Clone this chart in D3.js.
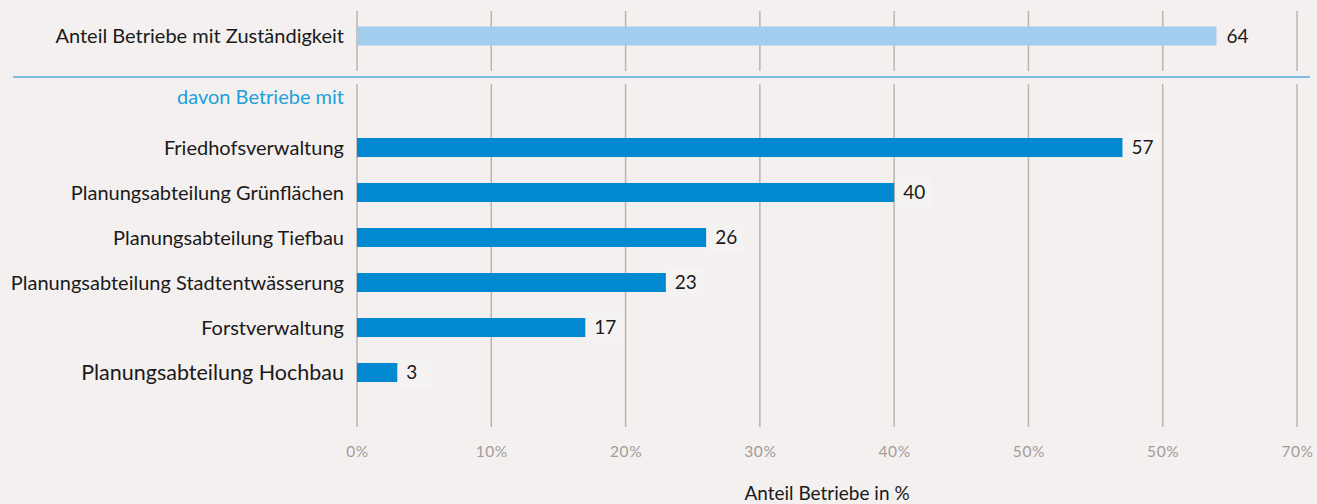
<!DOCTYPE html>
<html>
<head>
<meta charset="utf-8">
<title>Anteil Betriebe</title>
<script src="https://d3js.org/d3.v7.min.js"></script>
<style>
  body { margin: 0; background: #f3f0ef; }
  text { font-family: Lato, "Open Sans", sans-serif; }
</style>
</head>
<body>
<script>
const width = 1317;
const height = 504;

// data
const totalLabel = "Anteil Betriebe mit Zuständigkeit";
const totalValue = 64;
const subHeading = "davon Betriebe mit";
const categories = [
  "Friedhofsverwaltung",
  "Planungsabteilung Grünflächen",
  "Planungsabteilung Tiefbau",
  "Planungsabteilung Stadtentwässerung",
  "Forstverwaltung",
  "Planungsabteilung Hochbau"
];
const values = [57, 40, 26, 23, 17, 3];
const tickValues = [0, 10, 20, 30, 40, 50, 60, 70];
const tickLabels = ["0%", "10%", "20%", "30%", "40%", "50%", "50%", "70%"];
const axisTitle = "Anteil Betriebe in %";

const left = 357, right = 1297;
const barH = 19;

const svg = d3.select("body").append("svg")
  .attr("width", width)
  .attr("height", height);

svg.append("rect").attr("width", width).attr("height", height).attr("fill", "#f3f0ef");

const x = d3.scaleLinear().domain([0, 70]).range([left, right]);
const y = d3.scalePoint().domain(categories).range([147.5, 372.5]);
const yTop = 36;

// grid lines, top panel and lower panel
const grid = svg.append("g");
grid.selectAll("line.top").data(tickValues).join("line")
  .attr("class", "top")
  .attr("x1", d => x(d)).attr("x2", d => x(d))
  .attr("y1", 11).attr("y2", 71)
  .attr("stroke", "#bab4b1").attr("stroke-width", 1.5);
grid.selectAll("line.low").data(tickValues).join("line")
  .attr("class", "low")
  .attr("x1", d => x(d)).attr("x2", d => x(d))
  .attr("y1", 84).attr("y2", 427)
  .attr("stroke", "#bab4b1").attr("stroke-width", 1.5);

// separator
svg.append("line")
  .attr("x1", 13).attr("x2", 1310)
  .attr("y1", 77).attr("y2", 77)
  .attr("stroke", "#7dbde6").attr("stroke-width", 2);

// top bar
svg.append("rect")
  .attr("x", x(0)).attr("y", yTop - barH / 2)
  .attr("width", x(totalValue) - x(0)).attr("height", barH)
  .attr("fill", "#a2cdef");
svg.append("text")
  .attr("x", x(0) - 13).attr("y", yTop)
  .attr("dy", "0.35em").attr("text-anchor", "end")
  .attr("font-size", 20).attr("fill", "#1a1a1a")
  .text(totalLabel);
svg.append("text")
  .attr("x", x(totalValue) + 10).attr("y", yTop)
  .attr("dy", "0.35em")
  .attr("font-size", 19).attr("fill", "#1a1a1a")
  .text(totalValue);

// sub heading
svg.append("text")
  .attr("x", x(0) - 13).attr("y", 97)
  .attr("dy", "0.35em").attr("text-anchor", "end")
  .attr("font-size", 20).attr("fill", "#1ea0dc")
  .text(subHeading);

// lower bars
const rows = svg.selectAll("g.row").data(categories).join("g").attr("class", "row");
rows.append("rect")
  .attr("x", x(0)).attr("y", d => y(d) - barH / 2)
  .attr("width", (d, i) => x(values[i]) - x(0)).attr("height", barH)
  .attr("fill", "#0089d1");
rows.append("rect")
  .attr("x", (d, i) => x(values[i]) + 1).attr("y", d => y(d) - 15)
  .attr("width", 36).attr("height", 30)
  .attr("fill", "#f5f3f2");
rows.append("text")
  .attr("x", (d, i) => x(values[i]) + 9).attr("y", d => y(d))
  .attr("dy", "0.35em")
  .attr("font-size", 19).attr("fill", "#1a1a1a")
  .text((d, i) => values[i]);
rows.append("text")
  .attr("x", x(0) - 13).attr("y", d => y(d))
  .attr("dy", "0.35em").attr("text-anchor", "end")
  .attr("font-size", (d, i) => i === categories.length - 1 ? 21.5 : 20)
  .attr("fill", "#1a1a1a")
  .text(d => d);

// x axis labels
const axis = svg.append("g")
  .attr("transform", `translate(0,427)`)
  .call(d3.axisBottom(x).tickValues(tickValues).tickSize(0).tickPadding(19)
    .tickFormat((d, i) => tickLabels[i]));
axis.select(".domain").remove();
axis.selectAll("text")
  .attr("font-family", "Lato, 'Open Sans', sans-serif")
  .attr("font-size", 15.5).attr("letter-spacing", 0.6).attr("fill", "#a29c99");

svg.append("text")
  .attr("x", (left + right) / 2).attr("y", 493)
  .attr("dy", "0.35em").attr("text-anchor", "middle")
  .attr("font-size", 19).attr("fill", "#1a1a1a")
  .text(axisTitle);
</script>
</body>
</html>
